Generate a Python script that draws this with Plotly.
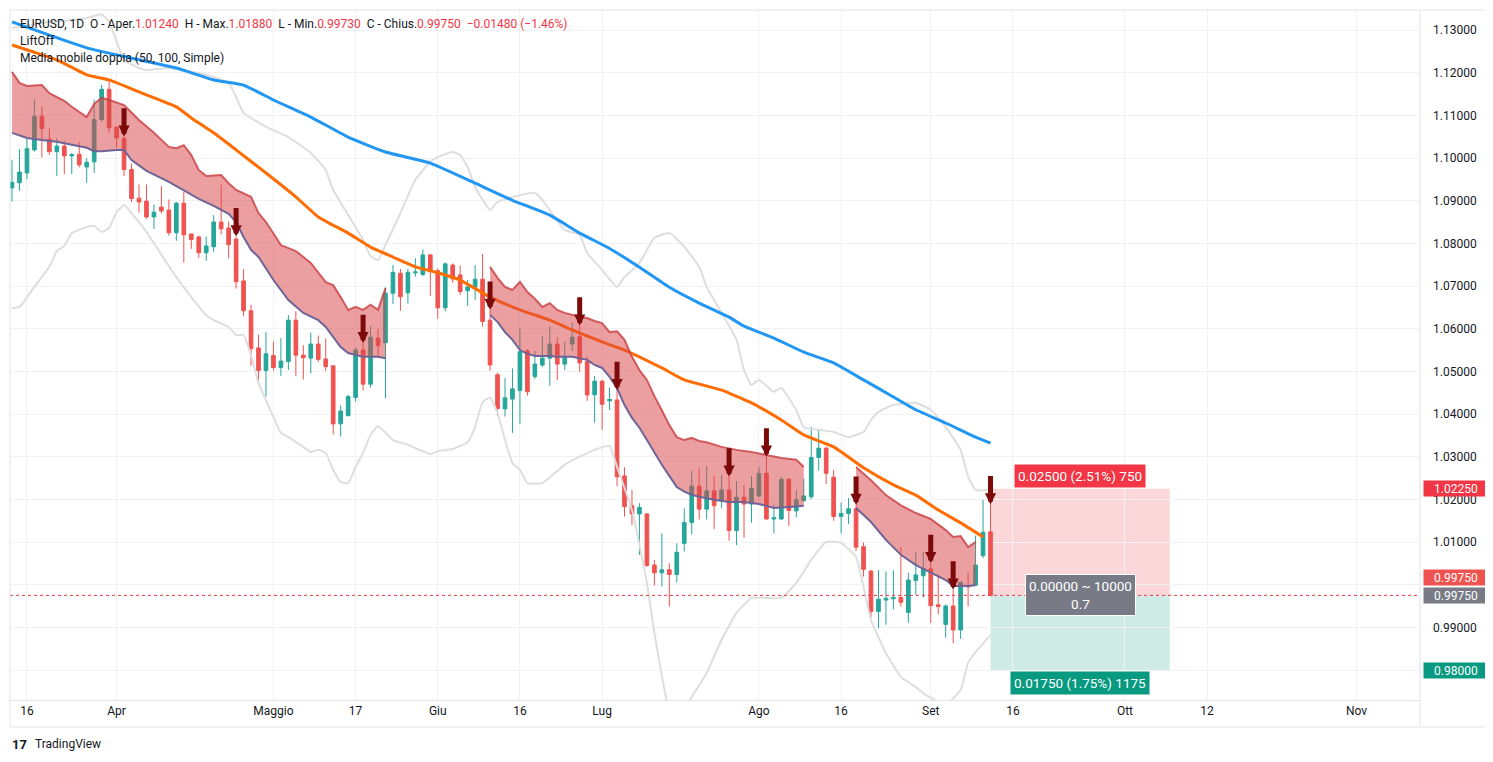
import pandas as pd
import plotly.graph_objects as go

# ---------------- data ----------------
opens = [1.0930,1.0942,1.0965,1.1019,1.1098,1.1044,1.1015,1.1028,1.1005,1.1009,
 1.0979,1.0991,1.1090,1.1161,1.1072,1.1046,1.0973,1.0906,1.0899,1.0862,
 1.0885,1.0878,1.0825,1.0894,1.0822,1.0815,1.0778,1.0792,1.0850,1.0836,
 1.0810,1.0712,1.0642,1.0555,1.0502,1.0537,1.0509,1.0523,1.0620,1.0538,
 1.0531,1.0564,1.0529,1.0513,1.0377,1.0396,1.0439,1.0550,1.0470,1.0578,
 1.0567,1.0683,1.0730,1.0684,1.0731,1.0727,1.0773,1.0736,1.0649,1.0749,
 1.0726,1.0689,1.0697,1.0716,1.0620,1.0492,1.0412,1.0435,1.0455,1.0548,
 1.0488,1.0515,1.0531,1.0564,1.0517,1.0564,1.0581,1.0523,1.0445,1.0477,
 1.0431,1.0433,1.0255,1.0185,1.0166,1.0166,1.0046,1.0028,1.0035,1.0024,
 1.0097,1.0146,1.0231,1.0177,1.0220,1.0197,1.0222,1.0127,1.0205,1.0189,
 1.0208,1.0261,1.0154,1.0154,1.0247,1.0173,1.0197,1.0206,1.0298,1.0320,
 1.0252,1.0160,1.0167,1.0178,1.0089,1.0032,0.9937,0.9964,0.9967,0.9970,
 0.9935,1.0010,1.0021,1.0037,0.9953,0.9907,0.9950,0.9894,0.9998,0.9999,
 1.0068,1.0124]
highs = [1.0995,1.1021,1.1046,1.1137,1.1120,1.1069,1.1046,1.1040,1.1012,1.1037,
 1.0999,1.1137,1.1171,1.1184,1.1075,1.1050,1.0987,1.0938,1.0938,1.0891,
 1.0934,1.0903,1.0897,1.0921,1.0823,1.0818,1.0816,1.0866,1.0937,1.0851,
 1.0816,1.0740,1.0656,1.0586,1.0592,1.0570,1.0578,1.0632,1.0641,1.0561,
 1.0591,1.0584,1.0577,1.0514,1.0420,1.0445,1.0556,1.0566,1.0606,1.0599,
 1.0697,1.0749,1.0740,1.0740,1.0765,1.0786,1.0775,1.0741,1.0755,1.0753,
 1.0748,1.0714,1.0749,1.0775,1.0644,1.0497,1.0484,1.0507,1.0601,1.0552,
 1.0548,1.0583,1.0606,1.0580,1.0570,1.0615,1.0607,1.0534,1.0489,1.0480,
 1.0462,1.0456,1.0275,1.0222,1.0191,1.0167,1.0058,1.0120,1.0050,1.0097,
 1.0179,1.0267,1.0273,1.0278,1.0255,1.0257,1.0253,1.0243,1.0234,1.0255,
 1.0275,1.0300,1.0187,1.0253,1.0249,1.0222,1.0248,1.0370,1.0364,1.0323,
 1.0269,1.0193,1.0203,1.0187,1.0099,1.0034,1.0034,1.0031,1.0034,1.0089,
 1.0028,1.0077,1.0077,1.0050,1.0023,0.9954,0.9988,1.0007,1.0029,1.0115,
 1.0199,1.0188]
lows = [1.0898,1.0923,1.0950,1.1015,1.1001,1.1007,1.0958,1.0962,1.0962,1.0978,
 1.0942,1.0965,1.1085,1.1058,1.1024,1.0958,1.0897,1.0872,1.0857,1.0834,
 1.0870,1.0818,1.0806,1.0755,1.0787,1.0766,1.0759,1.0780,1.0821,1.0765,
 1.0694,1.0630,1.0513,1.0468,1.0441,1.0502,1.0489,1.0503,1.0489,1.0481,
 1.0495,1.0522,1.0501,1.0352,1.0347,1.0395,1.0429,1.0455,1.0462,1.0531,
 1.0437,1.0658,1.0642,1.0659,1.0722,1.0723,1.0677,1.0623,1.0641,1.0708,
 1.0679,1.0653,1.0667,1.0605,1.0502,1.0395,1.0394,1.0356,1.0377,1.0443,
 1.0482,1.0510,1.0466,1.0480,1.0503,1.0548,1.0499,1.0431,1.0380,1.0363,
 1.0409,1.0231,1.0160,1.0140,1.0070,1.0042,0.9998,0.9996,0.9949,1.0005,
 1.0078,1.0118,1.0153,1.0153,1.0130,1.0179,1.0103,1.0093,1.0110,1.0145,
 1.0205,1.0152,1.0120,1.0152,1.0138,1.0158,1.0195,1.0200,1.0267,1.0236,
 1.0150,1.0120,1.0142,1.0079,1.0019,0.9923,0.9898,0.9906,0.9942,0.9949,
 0.9911,0.9976,0.9970,0.9910,0.9931,0.9876,0.9863,0.9873,0.9949,0.9997,
 1.0062,0.9973]
closes = [1.0943,1.0967,1.1022,1.1098,1.1069,1.1015,1.1028,1.1005,1.1008,1.0984,
 1.0990,1.1090,1.1161,1.1071,1.1047,1.0973,1.0905,1.0897,1.0862,1.0873,
 1.0876,1.0825,1.0894,1.0820,1.0809,1.0778,1.0794,1.0850,1.0834,1.0797,
 1.0710,1.0642,1.0553,1.0502,1.0541,1.0509,1.0524,1.0620,1.0538,1.0532,
 1.0564,1.0528,1.0511,1.0377,1.0407,1.0441,1.0550,1.0470,1.0580,1.0560,
 1.0683,1.0732,1.0675,1.0732,1.0733,1.0773,1.0734,1.0649,1.0752,1.0717,
 1.0687,1.0698,1.0716,1.0617,1.0515,1.0413,1.0438,1.0459,1.0546,1.0452,
 1.0517,1.0531,1.0564,1.0517,1.0533,1.0580,1.0520,1.0445,1.0477,1.0423,
 1.0434,1.0253,1.0183,1.0166,1.0181,1.0045,1.0028,1.0035,1.0024,1.0076,
 1.0146,1.0231,1.0177,1.0220,1.0185,1.0222,1.0127,1.0205,1.0189,1.0226,
 1.0261,1.0154,1.0157,1.0247,1.0174,1.0199,1.0208,1.0298,1.0320,1.0261,
 1.0160,1.0167,1.0178,1.0088,1.0036,0.9937,0.9966,0.9968,0.9970,0.9959,
 1.0011,1.0023,1.0038,0.9951,0.9949,0.9950,0.9894,1.0006,0.9995,1.0046,
 1.0123,0.9975]

first_day = "2022-03-14"
last_day = "2022-09-13"

# Simple moving averages (50 / 100), read at sample bars
ma50_bars = [0,3,6,10,13,17,22,24,27,30,34,38,41,45,48,51,54,57,60,64,68,72,75,79,82,87,90,95,99,103,106,110,114,118,121,124,127,130]
ma50_vals = [1.1265,1.1248,1.1230,1.1195,1.1183,1.1155,1.1120,1.1094,1.1059,1.1019,
             1.0965,1.0909,1.0862,1.0824,1.0791,1.0768,1.0745,1.0731,1.0714,1.0674,
             1.0644,1.0620,1.0597,1.0569,1.0550,1.0508,1.0480,1.0456,1.0426,1.0386,
             1.0351,1.0323,1.0274,1.0234,1.0210,1.0175,1.0145,1.0112]
ma100_bars = [0,5,10,16,22,27,31,35,40,45,50,56,62,67,72,76,80,84,88,92,96,98,102,106,110,114,118,121,125,129,131]
ma100_vals = [1.1319,1.1288,1.1258,1.1234,1.1211,1.1183,1.1171,1.1136,1.1096,1.1049,
              1.1014,1.0988,1.0941,1.0901,1.0866,1.0824,1.0788,1.0744,1.0697,1.0660,
              1.0627,1.0606,1.0578,1.0545,1.0520,1.0480,1.0440,1.0410,1.0379,1.0346,1.0332]

# Envelope (light grey) upper / lower
env_up_bars = [0,5,8,10,12,13,15,17,18,21,24,26,29,30,31,34,37,40,42,43,46,47,48,49,50,52,54,56,57,59,
               60,61,62,64,65,68,70,71,72,74,76,77,79,81,82,84,86,88,90,92,93,95,97,98,99,100,102,103,105,106,
               108,110,112,114,115,116,118,121,123,125,127,128,129,131]
env_up_vals = [1.1305,1.1319,1.1323,1.1328,1.1337,1.1319,1.1230,1.1211,1.1206,1.1211,
               1.1202,1.1195,1.1176,1.1143,1.1106,1.1073,1.1049,1.1012,1.0972,1.0925,
               1.0838,1.0808,1.0770,1.0761,1.0796,1.0871,1.0949,1.0991,1.1002,1.1014,
               1.1007,1.0979,1.0932,1.0878,1.0897,1.0913,1.0918,1.0902,1.0878,1.0831,
               1.0820,1.0777,1.0738,1.0698,1.0721,1.0754,1.0813,1.0824,1.0792,1.0745,
               1.0698,1.0637,1.0574,1.0503,1.0468,1.0480,1.0452,1.0461,1.0409,1.0369,
               1.0363,1.0358,1.0346,1.0358,1.0386,1.0405,1.0421,1.0426,1.0410,1.0370,
               1.0316,1.0253,1.0222,1.0222]
env_lo_bars = [0,1,3,5,6,7,8,10,11,12,13,14,15,16,18,20,22,24,26,27,29,30,31,32,33,35,36,37,39,40,
               41,42,43,44,45,46,47,48,49,50,51,53,54,56,57,59,61,62,63,64,65,66,67,68,69,71,72,74,76,78,
               80,81,83,85,86,88,89,91,93,95,97,99,101,103,105,107,109,111,113,114,115,117,119,121,122,124,125,127,128,129,131]
env_lo_vals = [1.0648,1.0651,1.0698,1.0745,1.0782,1.0794,1.0824,1.0838,1.0841,1.0827,
               1.0836,1.0873,1.0890,1.0871,1.0827,1.0773,1.0721,1.0674,1.0632,1.0620,
               1.0604,1.0585,1.0585,1.0538,1.0473,1.0393,1.0356,1.0346,1.0323,1.0311,
               1.0316,1.0309,1.0269,1.0241,1.0238,1.0276,1.0309,1.0351,1.0372,1.0356,
               1.0339,1.0328,1.0320,1.0306,1.0313,1.0318,1.0334,1.0370,1.0428,1.0438,
               1.0403,1.0339,1.0285,1.0269,1.0238,1.0238,1.0252,1.0281,1.0300,1.0316,
               1.0325,1.0276,1.0175,1.0004,0.9887,0.9702,0.9671,0.9737,0.9793,0.9871,
               0.9934,0.9969,0.9969,0.9969,1.0004,1.0058,1.0100,1.0098,1.0065,0.9995,
               0.9917,0.9840,0.9784,0.9760,0.9746,0.9725,0.9718,0.9753,0.9817,0.9842,0.9882]

# LiftOff band (upper / lower) and the bar ranges where it is shown
band_up_bars = [0,1,2,4,5,7,8,10,11,12,13,15,17,19,21,22,23,24,25,26,28,29,30,32,33,34,36,38,39,40,
                42,43,44,45,46,47,48,49,50,
                64,65,66,67,68,69,70,71,72,73,74,75,76,77,78,79,80,81,82,83,84,85,86,87,88,89,90,91,92,93,
                95,97,99,101,103,105,106,
                113,115,117,119,121,123,125,126,127,128,129]
band_up_vals = [1.1202,1.1176,1.1169,1.1171,1.1152,1.1134,1.1120,1.1096,1.1127,1.1141,
                1.1136,1.1124,1.1089,1.1059,1.1026,1.1023,1.1030,1.1007,1.0972,1.0958,
                1.0960,1.0941,1.0925,1.0909,1.0871,1.0850,1.0796,1.0782,1.0768,1.0754,
                1.0709,1.0702,1.0674,1.0644,1.0651,1.0644,1.0656,1.0644,1.0695,
                1.0745,1.0719,1.0698,1.0691,1.0710,1.0686,1.0670,1.0651,1.0660,1.0644,
                1.0637,1.0632,1.0628,1.0625,1.0618,1.0613,1.0592,1.0594,1.0574,1.0534,
                1.0503,1.0480,1.0442,1.0409,1.0374,1.0346,1.0339,1.0344,1.0337,1.0334,
                1.0323,1.0316,1.0311,1.0304,1.0297,1.0293,1.0276,
                1.0276,1.0245,1.0210,1.0186,1.0168,1.0154,1.0128,1.0112,1.0114,1.0088,1.0100]
band_lo_bars = [0,2,4,6,8,10,11,12,14,15,16,18,21,23,25,27,29,30,31,32,33,35,37,39,41,42,44,45,47,49,50,
                64,65,66,67,68,69,70,72,73,75,77,78,79,80,81,82,83,84,85,86,87,88,89,90,91,92,94,96,98,100,102,104,106,
                113,115,117,119,121,123,125,126,127,128,129]
band_lo_vals = [1.1059,1.1047,1.1042,1.1038,1.1031,1.1024,1.1016,1.1016,1.1019,1.1019,
                1.0995,1.0970,1.0944,1.0923,1.0904,1.0888,1.0869,1.0850,1.0815,1.0785,
                1.0768,1.0714,1.0667,1.0637,1.0620,1.0604,1.0557,1.0543,1.0534,1.0534,1.0531,
                1.0632,1.0616,1.0592,1.0574,1.0550,1.0541,1.0536,1.0536,1.0534,1.0534,
                1.0527,1.0515,1.0508,1.0487,1.0461,1.0421,1.0391,1.0368,1.0339,1.0309,
                1.0281,1.0255,1.0229,1.0218,1.0211,1.0206,1.0199,1.0194,1.0194,1.0189,
                1.0180,1.0182,1.0185,
                1.0180,1.0147,1.0105,1.0070,1.0046,1.0028,1.0011,0.9997,0.9997,0.9997,0.9999]
band_segments = [(0, 50), (64, 106), (113, 129)]

# LiftOff sell signals (bars with arrow)
signal_bars = [15, 30, 47, 64, 76, 81, 96, 101, 113, 123, 126, 131]

# Long/short position tool
pos_entry = 0.99750
pos_stop = 1.02250
pos_target = 0.98000
pos_start = "2022-09-13"
pos_end = "2022-10-07"
pos_qty_stop = "750"
pos_qty_target = "1175"
pos_qty = "10000"

# price scale
price_ticks = [0.98, 0.99, 1.00, 1.01, 1.02, 1.03, 1.04, 1.05, 1.06, 1.07, 1.08, 1.09, 1.10, 1.11, 1.12, 1.13]
hidden_price_ticks = [1.00]   # covered by the last-price label

tick_dates = ["2022-03-16", "2022-04-01", "2022-05-02", "2022-05-17", "2022-06-01", "2022-06-16",
              "2022-07-01", "2022-08-01", "2022-08-16", "2022-09-01", "2022-09-16", "2022-10-01",
              "2022-10-12", "2022-11-01"]
tick_text = ["16", "Apr", "Maggio", "17", "Giu", "16", "Lug", "Ago", "16", "Set", "16", "Ott", "12", "Nov"]

# ---------------- build ----------------
past = pd.bdate_range(first_day, last_day)
future = pd.date_range(pd.Timestamp(last_day) + pd.Timedelta(days=1), "2022-12-31")
timeline = [d.strftime("%Y-%m-%d") for d in list(past) + list(future)]
pos = {d: i for i, d in enumerate(timeline)}
bars = list(range(len(closes)))

FONT = "Roboto, 'Liberation Sans', Arial, sans-serif"
TXT = "#131722"
RED = "#f23645"
GREEN = "#089981"

fig = go.Figure()

def add_line(bx, vals, color, width):
    fig.add_trace(go.Scatter(x=bx, y=vals, mode="lines", hoverinfo="skip", showlegend=False,
                             line=dict(color=color, width=width, shape="spline", smoothing=0.4)))

add_line(env_up_bars, env_up_vals, "#dedede", 2)
add_line(env_lo_bars, env_lo_vals, "#dedede", 2)
add_line(ma100_bars, ma100_vals, "#2196f3", 3)
add_line(ma50_bars, ma50_vals, "#ff6d00", 3)

for s, e in band_segments:
    lb = [b for b in band_lo_bars if s <= b <= e]
    lv = [v for b, v in zip(band_lo_bars, band_lo_vals) if s <= b <= e]
    ub = [b for b in band_up_bars if s <= b <= e]
    uv = [v for b, v in zip(band_up_bars, band_up_vals) if s <= b <= e]
    fig.add_trace(go.Scatter(x=lb, y=lv, mode="lines", line=dict(width=0), hoverinfo="skip", showlegend=False))
    fig.add_trace(go.Scatter(x=ub, y=uv, mode="lines", fill="tonexty", fillcolor="rgba(218,70,72,0.52)",
                             line=dict(color="rgba(200,60,64,0.8)", width=2), hoverinfo="skip", showlegend=False))
    fig.add_trace(go.Scatter(x=lb, y=lv, mode="lines", line=dict(color="#6e6498", width=2),
                             hoverinfo="skip", showlegend=False))

fig.add_trace(go.Candlestick(
    x=bars, open=opens, high=highs, low=lows, close=closes,
    increasing=dict(line=dict(color="#26a69a", width=1), fillcolor="#26a69a"),
    decreasing=dict(line=dict(color="#ef5350", width=1), fillcolor="#ef5350"),
    whiskerwidth=0, hoverinfo="skip", showlegend=False))

ann = []
for b in signal_bars:
    ann.append(dict(x=b, y=highs[b], xref="x", yref="y", ax=0, ay=-30, text="", showarrow=True,
                    arrowhead=2, arrowsize=0.45, arrowwidth=5, arrowcolor="#7d0a0a", standoff=0))

# header legend
last_o, last_h, last_l, last_c = opens[-1], highs[-1], lows[-1], closes[-1]
chg = last_c - closes[-2]
chg_pct = chg / closes[-2] * 100
sp = "\u00a0\u00a0"
def red(t):
    return "<span style='color:%s'>%s</span>" % (RED, t)
line1 = ("EURUSD, 1D" + sp + "O - Aper." + red("%.5f" % last_o) + sp + "H - Max." + red("%.5f" % last_h) + sp +
         "L - Min." + red("%.5f" % last_l) + sp + "C - Chius." + red("%.5f" % last_c) + sp +
         red(("%.5f (%.2f%%)" % (chg, chg_pct)).replace("-", "\u2212")))

# the page puts the figure 8px from the window's top-left corner
OFF = 8
W, H = 1493 - OFF, 762 - OFF
L_M, T_M = 10 - OFF, 10 - OFF
R_M = W - (1420 - OFF)
B_M = H - (700 - OFF)
PW, PH = W - L_M - R_M, H - T_M - B_M
def px_x(xp):
    return (xp - OFF - L_M) / PW
def px_y(yp):
    return (H - B_M - (yp - OFF)) / PH

for t, yp in [(line1, 24), ("LiftOff", 41), ("Media mobile doppia (50, 100, Simple)", 58)]:
    ann.append(dict(x=px_x(18), y=px_y(yp), xref="paper", yref="paper", xanchor="left", yanchor="middle",
                    text=t, showarrow=False, font=dict(family=FONT, size=12, color=TXT)))

# position tool labels
x0, x1 = pos[pos_start], pos[pos_end]
xm = (x0 + x1) / 2
risk = pos_stop - pos_entry
reward = pos_entry - pos_target
ann.append(dict(x=xm, y=pos_stop, xref="x", yref="y", yanchor="bottom", yshift=1, showarrow=False,
                text="%.5f (%.2f%%) %s" % (risk, risk / pos_entry * 100, pos_qty_stop),
                font=dict(family=FONT, size=13.5, color="white"), bgcolor=RED, borderpad=3))
ann.append(dict(x=xm, y=pos_target, xref="x", yref="y", yanchor="top", yshift=-1, showarrow=False,
                text="%.5f (%.2f%%) %s" % (reward, reward / pos_entry * 100, pos_qty_target),
                font=dict(family=FONT, size=13.5, color="white"), bgcolor=GREEN, borderpad=3))
ann.append(dict(x=xm, y=pos_entry, xref="x", yref="y", yanchor="middle", showarrow=False,
                text="%.5f ~ %s<br>%.1f" % (0.0, pos_qty, reward / risk),
                font=dict(family=FONT, size=13.5, color="white"), bgcolor="#787b86", borderpad=3,
                bordercolor="#ffffff", borderwidth=1))

# right-axis price labels
for price, col, shift in [(pos_stop, RED, 0), (last_c, "#ef5350", 18), (pos_entry, "#787b86", 0), (pos_target, GREEN, 0)]:
    ann.append(dict(x=1, y=price, xref="paper", yref="y", xanchor="left", yanchor="middle", xshift=3, yshift=shift,
                    text="%.5f" % price, showarrow=False, font=dict(family=FONT, size=12, color="white"),
                    bgcolor=col, width=62, height=13, borderpad=1))

# footer
ann.append(dict(x=px_x(10), y=px_y(744), xref="paper", yref="paper", xanchor="left", yanchor="middle",
                text="<b>17</b>", showarrow=False, font=dict(family=FONT, size=13, color=TXT)))
ann.append(dict(x=px_x(33), y=px_y(744), xref="paper", yref="paper", xanchor="left", yanchor="middle",
                text="TradingView", showarrow=False, font=dict(family=FONT, size=12, color=TXT)))

shapes = [
    dict(type="rect", xref="x", yref="y", x0=x0, x1=x1, y0=pos_entry, y1=pos_stop,
         fillcolor="rgba(242,54,69,0.2)", line=dict(width=0), layer="below"),
    dict(type="rect", xref="x", yref="y", x0=x0, x1=x1, y0=pos_target, y1=pos_entry,
         fillcolor="rgba(8,153,129,0.2)", line=dict(width=0), layer="below"),
    dict(type="line", xref="paper", yref="y", x0=0, x1=1, y0=last_c, y1=last_c,
         line=dict(color=RED, width=1, dash="dot")),
    dict(type="rect", xref="paper", yref="paper", x0=0, x1=px_x(1488), y0=px_y(727), y1=1,
         line=dict(color="#e0e3eb", width=1), fillcolor="rgba(0,0,0,0)"),
    dict(type="line", xref="paper", yref="paper", x0=1, x1=1, y0=px_y(727), y1=1,
         line=dict(color="#e0e3eb", width=1)),
]

y_ticktext = ["" if any(abs(t - h) < 1e-9 for h in hidden_price_ticks) else "%.5f" % t for t in price_ticks]

fig.update_layout(
    width=W, height=H, margin=dict(l=L_M, r=R_M, t=T_M, b=B_M),
    paper_bgcolor="white", plot_bgcolor="white", showlegend=False,
    annotations=ann, shapes=shapes, hovermode=False,
    xaxis=dict(range=[-0.27, 188.5], tickmode="array", tickvals=[pos[d] for d in tick_dates], ticktext=tick_text,
               showgrid=True, gridcolor="#f0f2f6", zeroline=False, showline=True, linecolor="#e0e3eb",
               ticks="", tickfont=dict(family=FONT, size=12, color=TXT), rangeslider=dict(visible=False),
               fixedrange=True),
    yaxis=dict(side="right", range=[0.97298, 1.13469], tickmode="array", tickvals=price_ticks, ticktext=y_ticktext,
               showgrid=True, gridcolor="#f0f2f6", zeroline=False, showline=False,
               ticks="", ticklabelstandoff=12, tickfont=dict(family=FONT, size=12, color=TXT), fixedrange=True),
)

fig.write_html("out.html")
